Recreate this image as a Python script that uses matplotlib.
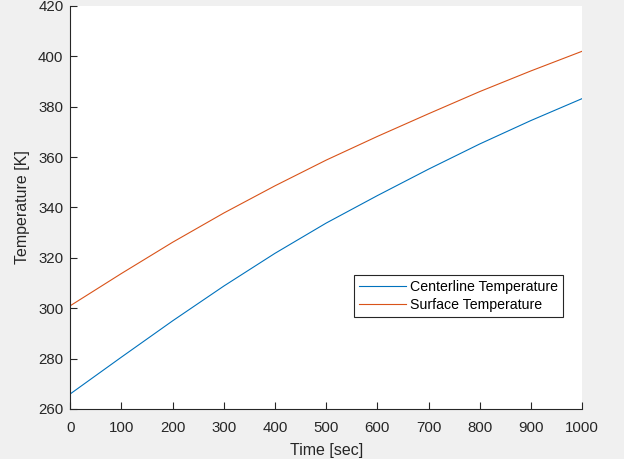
import matplotlib
matplotlib.use("Agg")
import matplotlib.pyplot as plt

time_s = [0, 100, 200, 300, 400, 500, 600, 700, 800, 900, 1000]
centerline_K = [266, 280.6, 295, 308.8, 321.8, 333.8, 344.7, 355.2, 365.2, 374.5, 383.2]
surface_K = [301, 313.8, 326.2, 337.8, 348.6, 358.8, 368.2, 377.2, 386, 394.2, 402]
xticks = [0, 100, 200, 300, 400, 500, 600, 700, 800, 900, 1000]
yticks = [260, 280, 300, 320, 340, 360, 380, 400, 420]

plt.rcParams['font.family'] = ['Liberation Sans', 'DejaVu Sans']

fig = plt.figure(figsize=(6.24, 4.59), dpi=100, facecolor='#f0f0f0')
ax = fig.add_axes([0.1127, 0.1090, 0.8200, 0.8780])
ax.set_facecolor('white')

ax.plot(time_s, centerline_K, color='#0072BD', lw=0.8, label='Centerline Temperature')
ax.plot(time_s, surface_K, color='#D95319', lw=0.8, label='Surface Temperature')

ax.set_xlim(0, 1000)
ax.set_ylim(260, 420)
ax.set_xticks(xticks)
ax.set_yticks(yticks)
for s in ['top', 'right']:
    ax.spines[s].set_visible(False)
for s in ['left', 'bottom']:
    ax.spines[s].set_color('#262626')
    ax.spines[s].set_linewidth(0.8)
ax.tick_params(direction='in', length=5, width=0.8, colors='#262626', labelsize=10.8)
ax.tick_params(axis='x', pad=9)
ax.tick_params(axis='y', pad=5)
ax.set_xlabel('Time [sec]', fontsize=11.5, color='#262626', labelpad=5.5)
ax.set_ylabel('Temperature [K]', fontsize=11.5, color='#262626', labelpad=6)

leg = ax.legend(loc='upper left', bbox_to_anchor=(0.5547, 0.3333),
                fontsize=10.2, fancybox=False, framealpha=1, edgecolor='#262626',
                handlelength=3.3, handletextpad=0.3, borderpad=0.35, labelspacing=0.3,
                borderaxespad=0)
leg.get_frame().set_linewidth(0.8)

fig.savefig('out.png', dpi=100, facecolor=fig.get_facecolor())
